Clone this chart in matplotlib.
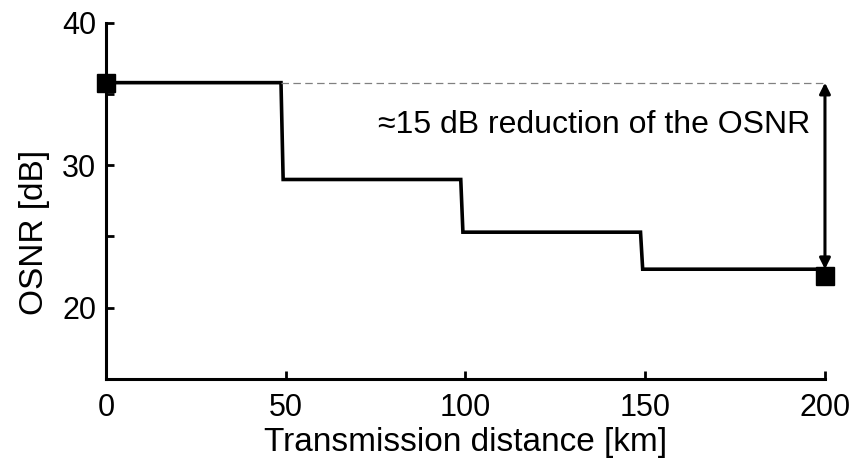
import matplotlib.pyplot as plt

plt.rcParams['font.family'] = ['Liberation Sans', 'DejaVu Sans']

# step profile of the OSNR along the link
dist_km = [0, 48.7, 49.3, 98.7, 99.3, 148.7, 149.3, 200]
osnr_db = [35.8, 35.8, 29.0, 29.0, 25.3, 25.3, 22.7, 22.7]

# start / end markers
mark_km = [0, 200]
mark_db = [35.8, 22.2]

x_ticks = [0, 50, 100, 150, 200]
y_ticks = [20, 25, 30, 35, 40]
y_labels = ['20', '', '30', '', '40']

fig = plt.figure(figsize=(8.54, 4.66), dpi=100)
ax = fig.add_axes([0.124, 0.187, 0.842, 0.764])

ax.plot(dist_km, osnr_db, color='black', linewidth=2.6, solid_joinstyle='miter')
ax.plot(mark_km, mark_db, linestyle='none', marker='s', markersize=13,
        color='black', clip_on=False, zorder=5)

# reference line and reduction arrow
ax.plot([dist_km[1], 200], [osnr_db[0], osnr_db[0]], color='gray',
        linestyle=(0, (6, 3.5)), linewidth=0.9)
ax.annotate('', xy=(200, osnr_db[-1]), xytext=(200, osnr_db[0]),
            arrowprops=dict(arrowstyle='<|-|>', color='black', lw=2.2,
                            mutation_scale=16, shrinkA=0, shrinkB=0))
ax.text(195.8, 32.8, '\u224815 dB reduction of the OSNR', ha='right', va='center',
        fontsize=23)

ax.set_xlim(0, 200)
ax.set_ylim(15, 40)
ax.set_xticks(x_ticks)
ax.set_yticks(y_ticks)
ax.set_yticklabels(y_labels)
ax.tick_params(direction='in', length=6, width=2, labelsize=22)
ax.tick_params(axis='x', pad=10)
ax.tick_params(axis='y', pad=7)

for s in ['top', 'right']:
    ax.spines[s].set_visible(False)
for s in ['left', 'bottom']:
    ax.spines[s].set_linewidth(2.2)

ax.set_xlabel('Transmission distance [km]', fontsize=24)
ax.set_ylabel('OSNR [dB]', fontsize=24)
ax.xaxis.set_label_coords(0.5, -0.135)
ax.yaxis.set_label_coords(-0.078, 0.41)

fig.savefig('out.png', dpi=100)
